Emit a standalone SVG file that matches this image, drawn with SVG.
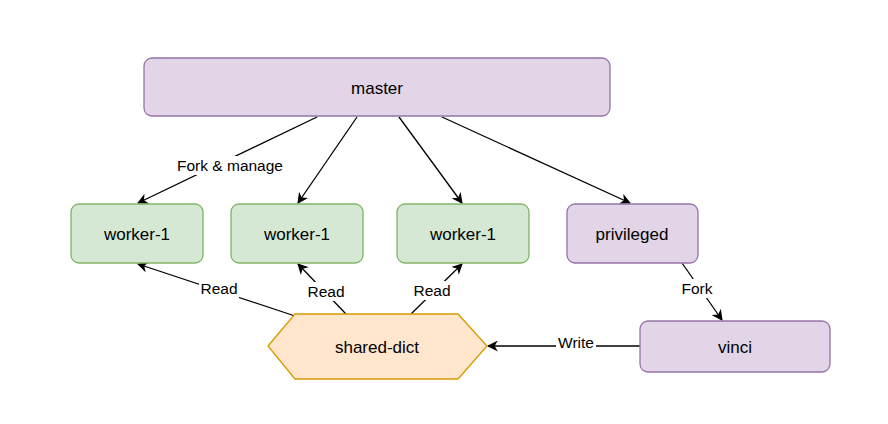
<svg xmlns="http://www.w3.org/2000/svg" width="888" height="424" viewBox="0 0 888 424">
<defs>
<style>
.purple{fill:#e1d5e7;stroke:#9673a6;stroke-width:1.3}
.green{fill:#d5e8d4;stroke:#82b366;stroke-width:1.3}
.orange{fill:#ffe6cc;stroke:#d79b00;stroke-width:1.3}
.t{font-family:"Liberation Sans",Arial,sans-serif;font-size:17px;fill:#000;text-anchor:middle;dominant-baseline:central}
.lbl{font-family:"Liberation Sans",Arial,sans-serif;font-size:15.5px;fill:#000;text-anchor:middle;dominant-baseline:central}
.e{fill:none;stroke:#000;stroke-width:1.3;marker-end:url(#arr)}
.bg{fill:#fff}
</style>
<marker id="arr" viewBox="0 0 10 10" refX="9" refY="5" markerWidth="11" markerHeight="11" markerUnits="userSpaceOnUse" orient="auto">
<path d="M0,0 L10,5 L0,10 L3,5 Z" fill="#000"/>
</marker>
</defs>
<rect width="888" height="424" fill="#fff"/>
<g id="connectors">
<path class="e" d="M317,117 L138,203"/>
<path class="e" d="M357,117 L298,203"/>
<path class="e" d="M399,117 L462,203"/>
<path class="e" d="M442,117 L630,203"/>
<path class="e" d="M682,263 L722,320"/>
<path class="e" d="M640,346 L488,346"/>
<path class="e" d="M295,316 L138,264"/>
<path class="e" d="M346,314 L298,264"/>
<path class="e" d="M411,314 L462,264"/>
<rect class="bg" x="172" y="156" width="116" height="19"/>
<text class="lbl" x="230" y="165">Fork &amp; manage</text>
<rect class="bg" x="679" y="279" width="36" height="19"/>
<text class="lbl" x="697" y="288">Fork</text>
<rect class="bg" x="556" y="334" width="40" height="17"/>
<text class="lbl" x="576" y="342">Write</text>
<rect class="bg" x="199" y="279" width="40" height="19"/>
<text class="lbl" x="219" y="288">Read</text>
<rect class="bg" x="306" y="282" width="40" height="19"/>
<text class="lbl" x="326" y="291">Read</text>
<rect class="bg" x="412" y="281" width="40" height="19"/>
<text class="lbl" x="432" y="290">Read</text>
</g>
<g id="master">
<rect class="purple" x="144" y="58" width="466" height="58" rx="8"/>
<text class="t" x="377" y="88">master</text>
</g>
<g id="worker-a">
<rect class="green" x="71" y="204" width="132" height="59" rx="8"/>
<text class="t" x="137" y="234">worker-1</text>
</g>
<g id="worker-b">
<rect class="green" x="231" y="204" width="132" height="59" rx="8"/>
<text class="t" x="297" y="234">worker-1</text>
</g>
<g id="worker-c">
<rect class="green" x="397" y="204" width="132" height="59" rx="8"/>
<text class="t" x="463" y="234">worker-1</text>
</g>
<g id="privileged">
<rect class="purple" x="567" y="204" width="131" height="59" rx="8"/>
<text class="t" x="632" y="234">privileged</text>
</g>
<g id="vinci">
<rect class="purple" x="640" y="321" width="190" height="51" rx="8"/>
<text class="t" x="735" y="347">vinci</text>
</g>
<g id="shared-dict">
<polygon class="orange" points="268,346 295,314 458,314 487,346 458,379 295,379"/>
<text class="t" x="377" y="347">shared-dict</text>
</g>
</svg>
